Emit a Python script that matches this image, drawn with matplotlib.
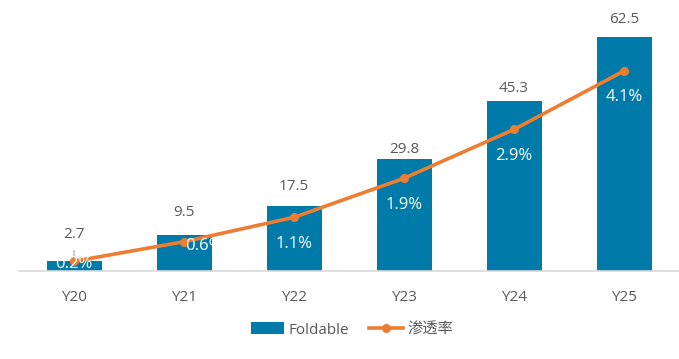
import matplotlib.pyplot as plt
import numpy as np

plt.rcParams['font.family'] = ['Open Sans', 'Noto Sans CJK SC', 'DejaVu Sans']

years = ["Y20", "Y21", "Y22", "Y23", "Y24", "Y25"]
foldable = [2.7, 9.5, 17.5, 29.8, 45.3, 62.5]
penetration = [0.2, 0.6, 1.1, 1.9, 2.9, 4.1]

bar_color = "#007AA8"
line_color = "#ED7D31"
text_color = "#595959"

fig = plt.figure(figsize=(6.79, 3.59), dpi=100)
ax = fig.add_axes([19 / 679, 88 / 359, 660 / 679, 262 / 359])
x = np.arange(len(years))

ax.bar(x, foldable, 0.5, color=bar_color, label="Foldable", zorder=2)
ax.set_xlim(-0.5, len(years) - 0.5)
ax.set_ylim(0, 70)
ax.set_yticks([])
for s in ["top", "left", "right"]:
    ax.spines[s].set_visible(False)
ax.spines["bottom"].set_color("#D9D9D9")
ax.spines["bottom"].set_linewidth(1.2)
ax.set_xticks(x, years)
ax.tick_params(axis="x", length=0, pad=14, labelsize=11, labelcolor=text_color)

# bar value labels (offset in points above bar top, label centre)
bar_offsets = [19, 16.5, 13.5, 7.5, 9.5, 12.5]
for xi, v, off in zip(x, foldable, bar_offsets):
    ax.annotate(f"{v}", (xi, v), xytext=(0, off), textcoords="offset points",
                ha="center", va="center", fontsize=11, color=text_color)
# leader line for the first label
ax.annotate("", (x[0], foldable[0] - 0.5), xytext=(x[0], foldable[0] + 3.5),
            arrowprops=dict(arrowstyle="-", color="#A6A6A6", lw=0.8))

ax2 = ax.twinx()
ax2.set_ylim(0, 262 / 48.8)
ax2.set_yticks([])
for s in ax2.spines.values():
    s.set_visible(False)
ax2.plot(x, penetration, color=line_color, lw=2.6, marker="o", ms=5.5,
         label="渗透率", zorder=3)

line_offsets = [(0, -2), (14, -3), (0, -19), (0, -19), (0, -19), (0, -19)]
for xi, v, (dx, dy) in zip(x, penetration, line_offsets):
    ax2.annotate(f"{v}%", (xi, v), xytext=(dx, dy), textcoords="offset points",
                 ha="center", va="center", fontsize=12, color="white")

h1, l1 = ax.get_legend_handles_labels()
h2, l2 = ax2.get_legend_handles_labels()
fig.legend(h1 + h2, l1 + l2, loc="center", bbox_to_anchor=(352 / 679, 1 - 330 / 359),
           ncol=2, frameon=False, fontsize=11, labelcolor=text_color,
           handlelength=2.2, handleheight=0.8, columnspacing=1.3, handletextpad=0.3)

fig.savefig("out.png", dpi=100)
